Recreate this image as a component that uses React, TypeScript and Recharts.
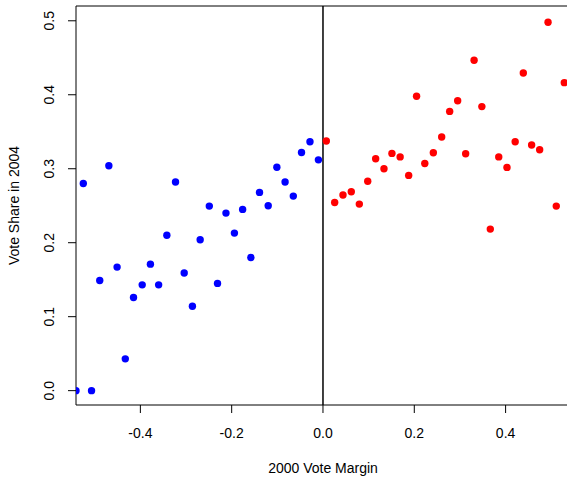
import {
  ScatterChart,
  Scatter,
  XAxis,
  YAxis,
  ReferenceLine,
} from "recharts";

// 2000 margin (x) vs 2004 vote share (y), split at zero
const loserMargin = [
  -0.469, -0.525, -0.323, -0.342, -0.269, -0.451, -0.378, -0.489, -0.396, -0.36,
  -0.304, -0.415, -0.286, -0.433, -0.541, -0.507, -0.0285, -0.047, -0.01, -0.101,
  -0.083, -0.139, -0.065, -0.249, -0.12, -0.2125, -0.176, -0.194, -0.158, -0.231,
];
const loserShare = [
  0.304, 0.28, 0.282, 0.21, 0.204, 0.167, 0.171, 0.149, 0.143, 0.143,
  0.159, 0.126, 0.114, 0.043, 0.0, 0.0, 0.3365, 0.322, 0.312, 0.302,
  0.282, 0.268, 0.263, 0.2495, 0.25, 0.24, 0.245, 0.213, 0.18, 0.145,
];
const winnerMargin = [
  0.0073, 0.205, 0.26, 0.1154, 0.151, 0.169, 0.1336, 0.098, 0.1877, 0.223,
  0.2417, 0.0256, 0.0438, 0.062, 0.0796, 0.493, 0.331, 0.4388, 0.5286, 0.295,
  0.2775, 0.348, 0.421, 0.457, 0.4746, 0.3125, 0.385, 0.403, 0.511, 0.3665,
];
const winnerShare = [
  0.3375, 0.398, 0.343, 0.3135, 0.3207, 0.316, 0.3, 0.283, 0.291, 0.307,
  0.3216, 0.2544, 0.2644, 0.2689, 0.2522, 0.498, 0.4466, 0.4295, 0.4164, 0.392,
  0.3775, 0.384, 0.3365, 0.332, 0.3257, 0.3203, 0.316, 0.3018, 0.2495, 0.2184,
];

const xTicks = [-0.4, -0.2, 0, 0.2, 0.4];
const yTicks = [0, 0.1, 0.2, 0.3, 0.4, 0.5];

const losers = loserMargin.map((x, i) => ({ x, y: loserShare[i] }));
const winners = winnerMargin.map((x, i) => ({ x, y: winnerShare[i] }));

const font = "'Liberation Sans', Arial, sans-serif";

const XTick = (props: any) => (
  <text
    x={props.x}
    y={props.y + 18}
    dy="0.35em"
    textAnchor="middle"
    fontSize={14}
    fontFamily={font}
    fill="#000"
  >
    {props.payload.value.toFixed(1)}
  </text>
);

const YTick = (props: any) => (
  <text
    transform={`translate(${props.x - 17},${props.y}) rotate(-90)`}
    dy="0.35em"
    textAnchor="middle"
    fontSize={14}
    fontFamily={font}
    fill="#000"
  >
    {props.payload.value.toFixed(1)}
  </text>
);

const dot = (color: string) => (p: any) =>
  <circle cx={p.cx} cy={p.cy} r={3.7} fill={color} />;

const App = () => {
  return (
    <div style={{ position: "absolute", left: 0, top: 0, width: 567, height: 477 }}>
      <ScatterChart
        width={567}
        height={477}
        margin={{ top: 6, right: 0, bottom: 0, left: 0 }}
      >
        <XAxis
          type="number"
          dataKey="x"
          domain={[-0.541, 0.5345]}
          allowDataOverflow
          ticks={xTicks}
          height={72}
          tickSize={8}
          tick={<XTick />}
          stroke="#000"
          label={{
            content: () => (
              <text x={323} y={468} dy="0.35em" textAnchor="middle" fontSize={14} fontFamily={font} fill="#000">
                2000 Vote Margin
              </text>
            ),
          }}
        />
        <YAxis
          type="number"
          dataKey="y"
          domain={[-0.0194, 0.52]}
          allowDataOverflow
          ticks={yTicks}
          width={76}
          tickSize={8}
          tick={<YTick />}
          stroke="#000"
          label={{
            content: () => (
              <text transform="translate(14,205.5) rotate(-90)" dy="0.35em" textAnchor="middle" fontSize={14} fontFamily={font} fill="#000">
                Vote Share in 2004
              </text>
            ),
          }}
        />
        <ReferenceLine y={0.52} stroke="#000" />
        <ReferenceLine x={0} stroke="#000" strokeWidth={1.5} />
        <Scatter data={losers} shape={dot("#0000FF")} isAnimationActive={false} />
        <Scatter data={winners} shape={dot("#FF0000")} isAnimationActive={false} />
      </ScatterChart>
    </div>
  );
};

export default App;
